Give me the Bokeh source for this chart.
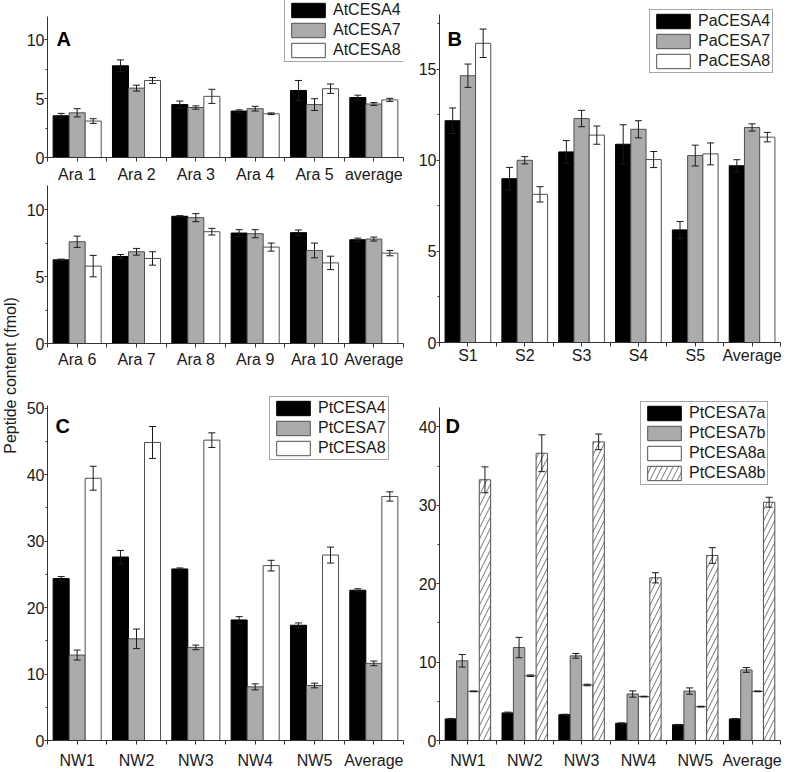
from bokeh.plotting import figure
from bokeh.models import (ColumnDataSource, Range1d, FixedTicker, Whisker, TeeHead,
                          Legend, LegendItem, Label)
from bokeh.layouts import row, column
from bokeh.embed import file_html
from bokeh.resources import INLINE

FONT = "Liberation Sans"

# ---------------- data ----------------
a_top_cats = ["Ara 1", "Ara 2", "Ara 3", "Ara 4", "Ara 5", "average"]
at_top_cesa4 = [3.55, 7.8, 4.5, 3.95, 5.7, 5.1]
at_top_cesa4_err = [0.2, 0.5, 0.3, 0.1, 0.85, 0.2]
at_top_cesa7 = [3.8, 5.9, 4.25, 4.15, 4.5, 4.55]
at_top_cesa7_err = [0.35, 0.25, 0.14, 0.2, 0.5, 0.12]
at_top_cesa8 = [3.1, 6.55, 5.2, 3.72, 5.85, 4.9]
at_top_cesa8_err = [0.2, 0.25, 0.6, 0.07, 0.4, 0.13]

a_bot_cats = ["Ara 6", "Ara 7", "Ara 8", "Ara 9", "Ara 10", "Average"]
at_bot_cesa4 = [6.25, 6.5, 9.5, 8.25, 8.28, 7.75]
at_bot_cesa4_err = [0.05, 0.15, 0.05, 0.25, 0.2, 0.12]
at_bot_cesa7 = [7.6, 6.85, 9.4, 8.2, 6.95, 7.8]
at_bot_cesa7_err = [0.42, 0.25, 0.3, 0.3, 0.55, 0.15]
at_bot_cesa8 = [5.78, 6.35, 8.35, 7.2, 6.02, 6.75]
at_bot_cesa8_err = [0.8, 0.5, 0.25, 0.3, 0.5, 0.2]

b_cats = ["S1", "S2", "S3", "S4", "S5", "Average"]
pa_cesa4 = [12.17, 8.99, 10.46, 10.88, 6.18, 9.7]
pa_cesa4_err = [0.7, 0.62, 0.62, 1.07, 0.46, 0.33]
pa_cesa7 = [14.64, 10.0, 12.29, 11.7, 10.26, 11.8]
pa_cesa7_err = [0.64, 0.2, 0.45, 0.47, 0.57, 0.2]
pa_cesa8 = [16.42, 8.13, 11.38, 10.04, 10.35, 11.27]
pa_cesa8_err = [0.78, 0.42, 0.5, 0.44, 0.6, 0.26]

nw_cats = ["NW1", "NW2", "NW3", "NW4", "NW5", "Average"]
pt_cesa4 = [24.35, 27.59, 25.8, 18.13, 17.33, 22.6]
pt_cesa4_err = [0.3, 1.0, 0.15, 0.5, 0.35, 0.22]
pt_cesa7 = [12.85, 15.29, 14.0, 8.07, 8.27, 11.6]
pt_cesa7_err = [0.75, 1.47, 0.35, 0.45, 0.35, 0.35]
pt_cesa8 = [39.44, 44.82, 45.17, 26.3, 27.89, 36.7]
pt_cesa8_err = [1.8, 2.4, 1.1, 0.8, 1.2, 0.7]

pt_cesa7a = [2.75, 3.52, 3.3, 2.2, 2.0, 2.75]
pt_cesa7a_err = [0.05, 0.1, 0.05, 0.05, 0.05, 0.05]
pt_cesa7b = [10.17, 11.86, 10.8, 5.93, 6.31, 9.0]
pt_cesa7b_err = [0.8, 1.3, 0.3, 0.4, 0.4, 0.3]
pt_cesa8a = [6.27, 8.26, 7.08, 5.6, 4.32, 6.27]
pt_cesa8a_err = [0.05, 0.1, 0.1, 0.05, 0.05, 0.05]
pt_cesa8b = [33.26, 36.65, 38.1, 20.76, 23.6, 30.4]
pt_cesa8b_err = [1.65, 2.35, 1.0, 0.65, 1.0, 0.63]

# ---------------- styles ----------------
EDGE = "#505050"
INK = "#1a1a1a"
BLACK = dict(fill_color="black", line_color="black")
GRAY = dict(fill_color="#ababab", line_color=EDGE)
WHITE = dict(fill_color="white", line_color=EDGE)
HATCH = dict(fill_color="white", line_color=EDGE, hatch_pattern="/",
             hatch_color=EDGE, hatch_scale=11, hatch_weight=0.8)


def panel(cats, series, names, styles, bar_w, ymax, ybound, yticks, yminor,
          width, height, borders, letter, letter_xy, legend_xy, x_standoff,
          show_legend=True):
    n = len(cats)
    left, right, top, bottom = borders
    p = figure(width=width, height=height,
               x_range=Range1d(-0.5, n - 0.5), y_range=Range1d(0, ymax),
               output_backend="svg", toolbar_location=None,
               min_border_left=left, min_border_right=right,
               min_border_top=top, min_border_bottom=bottom)
    p.grid.visible = False
    p.outline_line_color = None
    k = len(series)
    items = []
    for j, ((vals, errs), name, style) in enumerate(zip(series, names, styles)):
        off = (j - (k - 1) / 2) * bar_w
        xs = [i + off for i in range(n)]
        src = ColumnDataSource(dict(
            x=xs, top=vals,
            upper=[v + e for v, e in zip(vals, errs)],
            lower=[v - e for v, e in zip(vals, errs)]))
        r = p.vbar(x="x", top="top", bottom=0, width=bar_w, source=src,
                   line_width=1, **style)
        w = Whisker(base="x", upper="upper", lower="lower", source=src,
                    dimension="height", line_color=INK, line_width=1,
                    level="annotation",
                    upper_head=TeeHead(size=7, line_color=INK, line_width=1),
                    lower_head=TeeHead(size=7, line_color=INK, line_width=1))
        p.add_layout(w)
        items.append(LegendItem(label=name, renderers=[r]))

    p.xaxis.ticker = FixedTicker(ticks=list(range(n)),
                                 minor_ticks=[i - 0.5 for i in range(n + 1)])
    p.xaxis.major_label_overrides = {i: c for i, c in enumerate(cats)}
    p.yaxis.ticker = FixedTicker(ticks=yticks, minor_ticks=yminor)
    p.yaxis.bounds = (0, ybound)
    for ax in p.axis:
        ax.axis_line_color = "#333333"
        ax.axis_line_width = 1
        ax.major_tick_line_color = "#333333"
        ax.minor_tick_line_color = "#333333"
        ax.major_tick_in = 0
        ax.minor_tick_in = 0
        ax.major_label_text_font = FONT
        ax.major_label_text_font_size = "16px"
        ax.major_label_text_color = INK
    p.xaxis.major_tick_out = 4
    p.xaxis.minor_tick_out = 4
    p.xaxis.major_label_standoff = x_standoff
    p.yaxis.major_tick_out = 3
    p.yaxis.minor_tick_out = 2
    p.yaxis.major_label_standoff = 0

    if show_legend:
        leg = Legend(items=items, location=legend_xy, orientation="vertical",
                     padding=2, spacing=2, margin=0, glyph_width=42,
                     glyph_height=18, label_height=18, label_standoff=4,
                     label_text_font=FONT, label_text_font_size="16px",
                     label_text_color=INK, border_line_color=EDGE,
                     border_line_width=1, background_fill_color="white",
                     background_fill_alpha=1.0)
        p.add_layout(leg)
    if letter:
        p.add_layout(Label(x=letter_xy[0], y=letter_xy[1], x_units="screen",
                           y_units="screen", text=letter, text_font=FONT,
                           text_font_size="20px", text_font_style="bold",
                           text_baseline="alphabetic", text_color="black"))
    return p


# frames of the legend panels reach the canvas top so the legends are not clipped;
# the y axis line itself is bounded to the real data range
p_a_top = panel(a_top_cats,
                [(at_top_cesa4, at_top_cesa4_err), (at_top_cesa7, at_top_cesa7_err),
                 (at_top_cesa8, at_top_cesa8_err)],
                ["AtCESA4", "AtCESA7", "AtCESA8"], [BLACK, GRAY, WHITE], 0.27,
                13.352, 12, [0, 5, 10], [2.5, 7.5],
                390, 185, (24, 9, 0, 27), "A", (9, 118.5), (237, 95), 4)

p_a_bot = panel(a_bot_cats,
                [(at_bot_cesa4, at_bot_cesa4_err), (at_bot_cesa7, at_bot_cesa7_err),
                 (at_bot_cesa8, at_bot_cesa8_err)],
                ["AtCESA4", "AtCESA7", "AtCESA8"], [BLACK, GRAY, WHITE], 0.27,
                11.8, 11.8, [0, 5, 10], [2.5, 7.5],
                390, 195, (23, 0, 0, 37), "", (0, 0), (0, 0), 3,
                show_legend=False)

p_c = panel(nw_cats,
            [(pt_cesa4, pt_cesa4_err), (pt_cesa7, pt_cesa7_err), (pt_cesa8, pt_cesa8_err)],
            ["PtCESA4", "PtCESA7", "PtCESA8"], [BLACK, GRAY, WHITE], 0.27,
            54.14, 50.4, [0, 10, 20, 30, 40, 50], [5, 15, 25, 35, 45],
            390, 391, (25, 0, 0, 29), "C", (8, 315), (222, 280), 7)

p_b = panel(b_cats,
            [(pa_cesa4, pa_cesa4_err), (pa_cesa7, pa_cesa7_err), (pa_cesa8, pa_cesa8_err)],
            ["PaCESA4", "PaCESA7", "PaCESA8"], [BLACK, GRAY, WHITE], 0.268,
            18.768, 18, [0, 5, 10, 15], [2.5, 7.5, 12.5, 17.5],
            378, 380, (25, 10, 0, 38), "B", (8, 304), (210, 269), 0)

p_d = panel(nw_cats,
            [(pt_cesa7a, pt_cesa7a_err), (pt_cesa7b, pt_cesa7b_err),
             (pt_cesa8a, pt_cesa8a_err), (pt_cesa8b, pt_cesa8b_err)],
            ["PtCESA7a", "PtCESA7b", "PtCESA8a", "PtCESA8b"],
            [BLACK, GRAY, WHITE, HATCH], 0.2,
            45.93, 42.5, [0, 10, 20, 30, 40], [5, 15, 25, 35],
            378, 391, (27, 2, 0, 29), "D", (6, 315), (201, 255), 7)

# shared y-axis title
p_lab = figure(width=22, height=771, x_range=Range1d(0, 22), y_range=Range1d(0, 771),
               output_backend="svg", toolbar_location=None, min_border=0,
               x_axis_location=None, y_axis_location=None)
p_lab.grid.visible = False
p_lab.outline_line_color = None
p_lab.add_layout(Label(x=10, y=396, x_units="screen", y_units="screen",
                       text="Peptide content (fmol)", angle=90, angle_units="deg",
                       text_align="center", text_baseline="middle",
                       text_font=FONT, text_font_size="16px", text_color=INK))

layout = row(p_lab, column(p_a_top, p_a_bot, p_c), column(p_b, p_d))
open("out.html", "w").write(file_html(layout, INLINE))
